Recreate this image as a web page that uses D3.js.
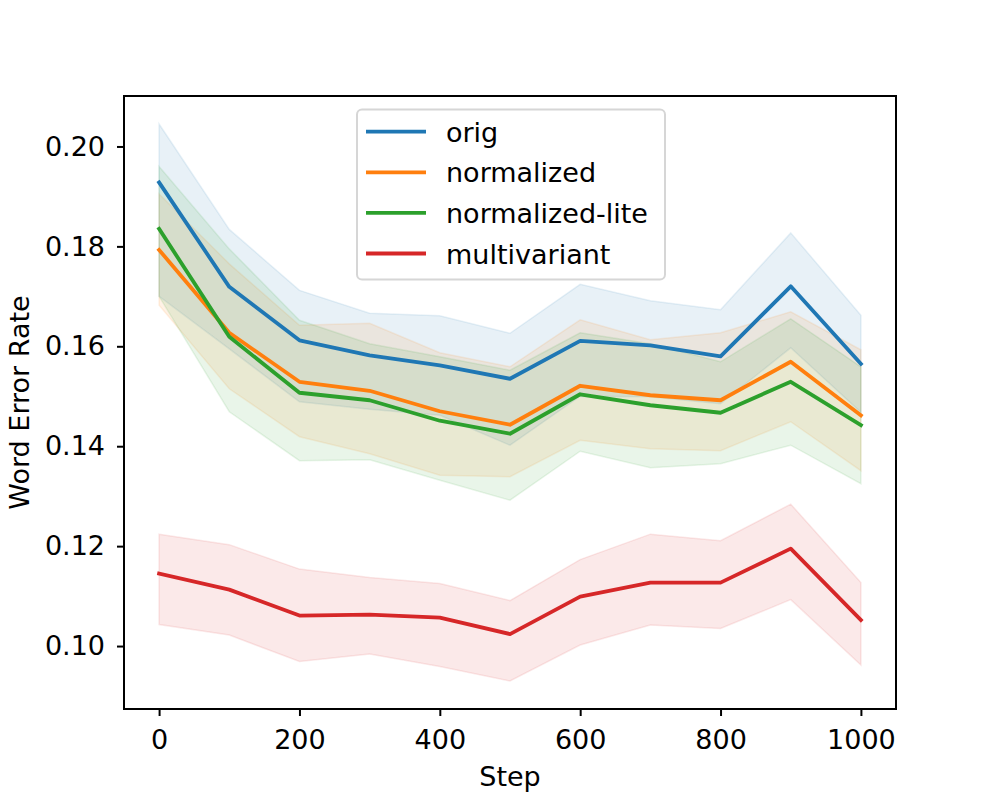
<!DOCTYPE html>
<html>
<head>
<meta charset="utf-8">
<script src="https://cdn.jsdelivr.net/npm/d3@7"></script>
<style>
  body { margin: 0; background: #fff; }
  svg text { font-family: "DejaVu Sans", sans-serif; fill: #000; }
</style>
</head>
<body>
<div id="chart"></div>
<script>
const steps = [0, 100, 200, 300, 400, 500, 600, 700, 800, 900, 1000];

const seriesNames = ['orig', 'normalized', 'normalized-lite', 'multivariant'];

const origMean  = [0.1928, 0.1719, 0.1612, 0.1582, 0.1562, 0.1535, 0.1611, 0.1602, 0.1580, 0.1720, 0.1565];
const origUpper = [0.2045, 0.1834, 0.1712, 0.1666, 0.1661, 0.1626, 0.1724, 0.1691, 0.1673, 0.1827, 0.1662];
const origLower = [0.1700, 0.1595, 0.1489, 0.1474, 0.1462, 0.1402, 0.1500, 0.1499, 0.1485, 0.1597, 0.1468];

const normMean  = [0.1793, 0.1627, 0.1529, 0.1511, 0.1470, 0.1443, 0.1521, 0.1502, 0.1492, 0.1569, 0.1462];
const normUpper = [0.1905, 0.1765, 0.1642, 0.1646, 0.1587, 0.1559, 0.1653, 0.1613, 0.1627, 0.1669, 0.1593];
const normLower = [0.1682, 0.1515, 0.1419, 0.1385, 0.1342, 0.1339, 0.1412, 0.1395, 0.1391, 0.1449, 0.1351];

const liteMean  = [0.1835, 0.1619, 0.1507, 0.1492, 0.1451, 0.1425, 0.1504, 0.1482, 0.1467, 0.1529, 0.1442];
const liteUpper = [0.1960, 0.1795, 0.1652, 0.1605, 0.1579, 0.1552, 0.1627, 0.1605, 0.1569, 0.1655, 0.1559];
const liteLower = [0.1700, 0.1469, 0.1371, 0.1373, 0.1332, 0.1292, 0.1390, 0.1357, 0.1365, 0.1402, 0.1325];

const multiMean  = [0.1145, 0.1113, 0.1061, 0.1063, 0.1057, 0.1024, 0.1099, 0.1127, 0.1127, 0.1195, 0.1052];
const multiUpper = [0.1224, 0.1203, 0.1154, 0.1137, 0.1125, 0.1091, 0.1173, 0.1224, 0.1211, 0.1284, 0.1127];
const multiLower = [0.1043, 0.1022, 0.0969, 0.0984, 0.0959, 0.0930, 0.1002, 0.1042, 0.1035, 0.1093, 0.0962];

const xTicks = [0, 200, 400, 600, 800, 1000];
const yTicks = [0.10, 0.12, 0.14, 0.16, 0.18, 0.20];

const COLORS = ['#1f77b4', '#ff7f0e', '#2ca02c', '#d62728'];
const FONT_SIZE = '27px';

const series = [
  { name: seriesNames[0], mean: origMean, lo: origLower, hi: origUpper },
  { name: seriesNames[1], mean: normMean, lo: normLower, hi: normUpper },
  { name: seriesNames[2], mean: liteMean, lo: liteLower, hi: liteUpper },
  { name: seriesNames[3], mean: multiMean, lo: multiLower, hi: multiUpper }
];

const width = 996, height = 797;
const plot = { left: 124, right: 896, top: 96, bottom: 709 };

const svg = d3.select('#chart').append('svg')
  .attr('width', width)
  .attr('height', height);

const x = d3.scaleLinear().domain([-50, 1050]).range([plot.left, plot.right]);
const y = d3.scaleLinear().domain([0.0874, 0.2101]).range([plot.bottom, plot.top]);

// bands first, lines on top (like matplotlib zorder)
const area = d3.area()
  .x((d, i) => x(steps[i]))
  .y0(d => y(d[0]))
  .y1(d => y(d[1]));

const line = d3.line()
  .x((d, i) => x(steps[i]))
  .y(d => y(d));

const bands = svg.append('g').attr('class', 'bands');
series.forEach((s, k) => {
  bands.append('path')
    .datum(s.lo.map((v, i) => [v, s.hi[i]]))
    .attr('d', area)
    .attr('fill', COLORS[k])
    .attr('fill-opacity', 0.1)
    .attr('stroke', COLORS[k])
    .attr('stroke-opacity', 0.1)
    .attr('stroke-width', 1.5);
});

const lines = svg.append('g').attr('class', 'lines');
series.forEach((s, k) => {
  lines.append('path')
    .datum(s.mean)
    .attr('d', line)
    .attr('fill', 'none')
    .attr('stroke', COLORS[k])
    .attr('stroke-width', 3.8)
    .attr('stroke-linejoin', 'round')
    .attr('stroke-linecap', 'square');
});

// axes
const xAxis = svg.append('g')
  .attr('transform', `translate(0,${plot.bottom})`)
  .call(d3.axisBottom(x).tickValues(xTicks).tickSize(7).tickPadding(14).tickFormat(d3.format('d')));

const yAxis = svg.append('g')
  .attr('transform', `translate(${plot.left},0)`)
  .call(d3.axisLeft(y).tickValues(yTicks).tickSize(7).tickPadding(12).tickFormat(d3.format('.2f')));

[xAxis, yAxis].forEach(a => {
  a.select('.domain').remove();
  a.selectAll('.tick line').attr('stroke', '#000').attr('stroke-width', 2);
  a.selectAll('.tick text')
    .style('font-family', '"DejaVu Sans", sans-serif')
    .style('font-size', FONT_SIZE)
    .attr('fill', '#000');
});

svg.append('rect')
  .attr('x', plot.left)
  .attr('y', plot.top)
  .attr('width', plot.right - plot.left)
  .attr('height', plot.bottom - plot.top)
  .attr('fill', 'none')
  .attr('stroke', '#000')
  .attr('stroke-width', 2);

svg.append('text')
  .attr('x', (plot.left + plot.right) / 2)
  .attr('y', 786)
  .attr('text-anchor', 'middle')
  .style('font-size', FONT_SIZE)
  .text('Step');

svg.append('text')
  .attr('transform', `translate(29,${(plot.top + plot.bottom) / 2}) rotate(-90)`)
  .attr('text-anchor', 'middle')
  .style('font-size', FONT_SIZE)
  .text('Word Error Rate');

// legend
const legend = svg.append('g').attr('class', 'legend');
legend.append('rect')
  .attr('x', 357).attr('y', 109.5)
  .attr('width', 308).attr('height', 170)
  .attr('rx', 5).attr('ry', 5)
  .attr('fill', '#fff').attr('fill-opacity', 0.8)
  .attr('stroke', '#d6d6d6').attr('stroke-width', 2);

series.forEach((s, k) => {
  const ly = 131.7 + k * 40.6;
  legend.append('line')
    .attr('x1', 366).attr('x2', 426)
    .attr('y1', ly).attr('y2', ly)
    .attr('stroke', COLORS[k])
    .attr('stroke-width', 3.8);
  legend.append('text')
    .attr('x', 446)
    .attr('y', ly + 10)
    .style('font-size', FONT_SIZE)
    .text(s.name);
});
</script>
</body>
</html>
